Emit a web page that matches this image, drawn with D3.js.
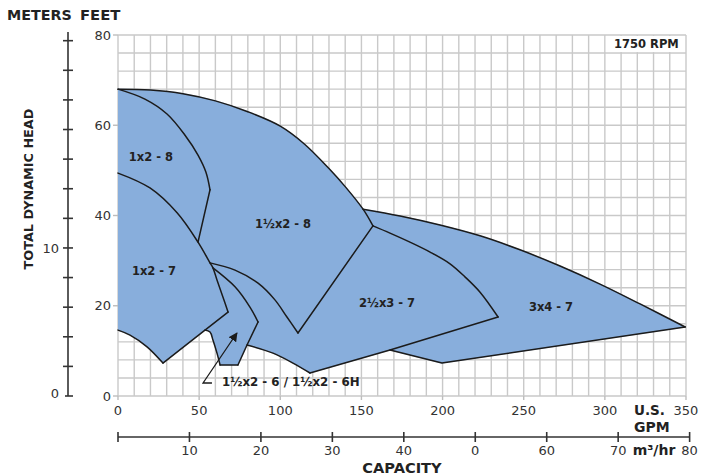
<!DOCTYPE html>
<html><head><meta charset="utf-8">
<script src="https://cdn.jsdelivr.net/npm/d3@7/dist/d3.min.js"></script>
<style>
body{margin:0;background:#fff;}
svg{display:block;}
text{font-family:"DejaVu Sans",sans-serif;}
</style></head>
<body><svg id="c" width="704" height="476"></svg>
<script>
// ---- data (GPM, feet) ----
const gpmTicks = [0,50,100,150,200,250,300,350];
const feetTicks = [0,20,40,60,80];
const meterLabels = [0,10];
const m3Ticks = [0,10,20,30,40,50,60,70,80];
const m3Labels = ["","10","20","30","40","0","60","70","80"];

// boundary curves (GPM, feet)
const topArc = [[0,68.0],[20,67.8],[40,67.0],[60,65.4],[80,63.0],[100,59.8],[115,55.8],[130,50.4],[140,46.4],[151.0,41.4],[157.1,37.7]];
const c18Curve = [[0,68.0],[16.6,65.8],[30.2,62.5],[41.3,57.8],[49.3,53.4],[54.2,49.6],[56.7,45.7]];
const c18Line = [[56.7,45.7],[49.3,34.1]];
const arc17 = [[0,49.4],[19.7,46.1],[36.4,40.6],[49.3,34.1],[56.7,29.5],[58.5,28.4],[61.0,25.7],[64.7,21.9],[67.8,18.6]];
const e17 = [[67.8,18.6],[53.6,14.6],[27.7,7.3]];
const b17Curve = [[27.7,7.3],[17.9,10.9],[7.4,13.5],[0,14.6]];
const arcA = [[56.7,29.5],[72.1,27.9],[86.3,25.0],[96.7,21.3],[104.1,17.5],[110.9,13.96]];
const vLine = [[110.9,13.96],[157.1,37.7]];
const curveB = [[58.5,28.4],[72.1,24.2],[81.3,19.7],[86.3,16.4]];
const e26R = [[86.3,16.4],[79.5,11.3],[73.9,6.87]];
const e26Bot = [[73.9,6.87],[62.9,6.87]];
const e26Left = [[62.9,6.87],[61.0,9.5],[58.5,12.4],[56.7,14.2],[53.6,14.6]];
const b23Curve = [[79.5,11.3],[95.5,9.5],[107.8,7.3],[118.3,5.1]];
const b23Line = [[118.3,5.1],[167.6,10.2],[234.2,17.5]];
const c23Curve = [[157.1,37.7],[167.6,36.1],[179.9,34.1],[192.3,31.9],[204.6,29.3],[213.8,26.4],[223.1,23.0],[234.2,17.5]];
const t34Curve = [[151.0,41.4],[173.8,39.9],[198.4,37.9],[223.1,35.5],[247.7,32.4],[272.4,28.8],[297.0,24.8],[321.7,20.4],[349.5,15.3]];
const b34Line = [[349.5,15.3],[199.6,7.3],[167.6,10.2]];

const regionNames = ["1x2 - 8","1½x2 - 8","1x2 - 7","1½x2 - 6","2½x3 - 7","3x4 - 7"];
const regionLabelPos = [[20.3,53.0],[101.7,38.1],[22.2,27.7],null,[165.8,20.6],[266.8,19.7]];
const smallLabel = "1½x2 - 6 / 1½x2 - 6H";
const smallLabelPos = [64.1,3.1];
const arrowPts = [[57.9,2.88],[52.4,2.88],[73.3,13.96]];

// ---- scales ----
const x = d3.scaleLinear([0,350],[118,686]);
const y = d3.scaleLinear([0,80],[396,35]);
const ym = d3.scaleLinear([0,80/3.28084],[396,35]);
const xm = d3.scaleLinear([0,350/4.40287],[118,686]);

const svg = d3.select("#c");
const GRID = "#c9c9c9";

// grid
const g = svg.append("g");
g.selectAll("line.v").data(d3.range(0,351,10)).join("line").attr("class","v")
 .attr("x1",d=>x(d)).attr("x2",d=>x(d)).attr("y1",y(80)).attr("y2",y(0))
 .attr("stroke",GRID).attr("stroke-width",1.4);
g.selectAll("line.h").data(d3.range(0,81,4)).join("line").attr("class","h")
 .attr("x1",x(0)).attr("x2",x(350)).attr("y1",d=>y(d)).attr("y2",d=>y(d))
 .attr("stroke",GRID).attr("stroke-width",1.4);
g.selectAll("line.ft").data(feetTicks).join("line").attr("class","ft")
 .attr("x1",x(0)-5).attr("x2",x(0)).attr("y1",d=>y(d)).attr("y2",d=>y(d))
 .attr("stroke","#bdbdbd").attr("stroke-width",1.4);
g.selectAll("line.gt").data(gpmTicks).join("line").attr("class","gt")
 .attr("x1",d=>x(d)).attr("x2",d=>x(d)).attr("y1",y(0)).attr("y2",y(0)+4)
 .attr("stroke","#bdbdbd").attr("stroke-width",1.4);

// RPM box
svg.append("rect").attr("x",x(300)+1).attr("y",y(80)+1)
 .attr("width",x(350)-x(300)-2).attr("height",y(76)-y(80)-2).attr("fill","#fff");
svg.append("text").attr("x",(x(300)+x(350))/2+1).attr("y",y(78)).attr("dy","0.36em")
 .attr("text-anchor","middle").attr("font-size",11.5).attr("font-weight",700).attr("fill","#222").text("1750 RPM");

// path helpers
const lin = d3.line().x(d=>x(d[0])).y(d=>y(d[1]));
const cur = d3.line().x(d=>x(d[0])).y(d=>y(d[1])).curve(d3.curveCatmullRom.alpha(0.5));
const curvedSet = new Set([topArc,c18Curve,arc17,b17Curve,arcA,curveB,e26Left,b23Curve,c23Curve,t34Curve]);
const L = a => a.length-1;
function seg(arr,i,j){
  const p = i<=j ? arr.slice(i,j+1) : arr.slice(j,i+1).reverse();
  return {p, c:curvedSet.has(arr)};
}
const gen = s => (s.c && s.p.length>2) ? cur(s.p) : lin(s.p);
function joinPath(segs, close){
  const s = segs.map((q,i)=> i===0 ? gen(q) : gen(q).replace(/^M/,"L")).join("");
  return close ? s+"Z" : s;
}
const regions = [
  [[seg(arc17,0,3), seg(c18Line,1,0), seg(c18Curve,L(c18Curve),0)], false],
  [[seg(topArc,0,L(topArc)), seg(vLine,1,0), seg(arcA,L(arcA),0), seg(arc17,4,3), seg(c18Line,1,0), seg(c18Curve,L(c18Curve),0)], true],
  [[seg(b17Curve,L(b17Curve),0), seg(e17,2,0), seg(arc17,8,0)], false],
  [[seg(e17,1,0), seg(arc17,8,5), seg(curveB,0,L(curveB)), seg(e26R,0,2), seg(e26Bot,0,1), seg(e26Left,0,L(e26Left))], true],
  [[seg(c23Curve,0,L(c23Curve)), seg(b23Line,2,0), seg(b23Curve,L(b23Curve),0), seg(e26R,1,0), seg(curveB,L(curveB),0), seg(arc17,5,4), seg(arcA,0,L(arcA)), seg(vLine,0,1)], true],
  [[seg(t34Curve,0,L(t34Curve)), seg(b34Line,0,2), seg(b23Line,1,2), seg(c23Curve,L(c23Curve),0), seg(topArc,L(topArc),9)], true]
];
svg.append("g").selectAll("path").data(regions).join("path")
 .attr("d",d=>joinPath(d[0],d[1])).attr("fill","#88aedc").attr("stroke","#88aedc").attr("stroke-width",0.6);

const boundaries = [topArc,c18Curve,c18Line,arc17,e17,b17Curve,arcA,vLine,curveB,e26R,e26Bot,e26Left,b23Curve,b23Line,c23Curve,t34Curve,b34Line];
svg.append("g").selectAll("path").data(boundaries).join("path")
 .attr("d",a=>gen({p:a,c:curvedSet.has(a)})).attr("fill","none").attr("stroke","#1b1b1b").attr("stroke-width",1.5)
 .attr("stroke-linejoin","round").attr("stroke-linecap","round");

// region labels
svg.append("g").selectAll("text").data(regionNames.map((n,i)=>({n,p:regionLabelPos[i]})).filter(d=>d.p)).join("text")
 .attr("x",d=>x(d.p[0])).attr("y",d=>y(d.p[1])).attr("dy","0.36em").attr("text-anchor","middle")
 .attr("font-size",11.5).attr("font-weight",700).attr("fill","#222").text(d=>d.n);

svg.append("text").attr("x",x(smallLabelPos[0])).attr("y",y(smallLabelPos[1])).attr("dy","0.36em")
 .attr("font-size",11.8).attr("font-weight",700).attr("fill","#222").text(smallLabel);

// arrow
svg.append("defs").append("marker").attr("id","ah").attr("viewBox","0 0 10 10").attr("refX",9).attr("refY",5)
 .attr("markerWidth",9).attr("markerHeight",9).attr("markerUnits","userSpaceOnUse").attr("orient","auto")
 .append("path").attr("d","M0,0L10,5L0,10Z").attr("fill","#1b1b1b");
svg.append("path").attr("d",lin(arrowPts)).attr("fill","none").attr("stroke","#1b1b1b").attr("stroke-width",1.3)
 .attr("marker-end","url(#ah)");

// feet labels
svg.append("g").selectAll("text").data(feetTicks).join("text")
 .attr("x",x(0)-7).attr("y",d=>y(d)).attr("dy","0.36em").attr("text-anchor","end")
 .attr("font-size",13).attr("fill","#333").text(d=>d);

// meters axis
const mAxisX = 68;
svg.append("line").attr("x1",mAxisX).attr("x2",mAxisX).attr("y1",32).attr("y2",ym(0))
 .attr("stroke","#333").attr("stroke-width",1.6);
svg.append("g").selectAll("line").data(d3.range(0,25,2)).join("line")
 .attr("x1",d=>d===0?mAxisX-3:mAxisX-5).attr("x2",mAxisX+5).attr("y1",d=>ym(d)).attr("y2",d=>ym(d))
 .attr("stroke","#333").attr("stroke-width",1.6);
svg.append("g").selectAll("text").data(meterLabels).join("text")
 .attr("x",59).attr("y",d=>ym(d)-(d===0?3:0)).attr("dy","0.36em").attr("text-anchor","end")
 .attr("font-size",13).attr("fill","#333").text(d=>d);

// gpm labels
svg.append("g").selectAll("text").data(gpmTicks).join("text")
 .attr("x",d=>x(d)).attr("y",410).attr("dy","0.36em").attr("text-anchor","middle")
 .attr("font-size",13).attr("fill","#333").text(d=>d);
svg.append("text").attr("x",634).attr("y",410).attr("dy","0.36em").attr("font-size",13.5).attr("font-weight",700).attr("fill","#222").text("U.S.");
svg.append("text").attr("x",634).attr("y",427).attr("dy","0.36em").attr("font-size",14).attr("font-weight",700).attr("fill","#222").text("GPM");

// m3/hr axis
const mY = 437;
svg.append("line").attr("x1",xm(0)).attr("x2",xm(80)).attr("y1",mY).attr("y2",mY).attr("stroke","#333").attr("stroke-width",1.6);
svg.append("g").selectAll("line").data(m3Ticks).join("line")
 .attr("x1",d=>xm(d)).attr("x2",d=>xm(d)).attr("y1",mY-5).attr("y2",mY+5).attr("stroke","#333").attr("stroke-width",1.6);
svg.append("g").selectAll("text").data(m3Ticks).join("text")
 .attr("x",d=>xm(d)).attr("y",450).attr("dy","0.36em").attr("text-anchor","middle")
 .attr("font-size",13).attr("fill","#333").text((d,i)=>m3Labels[i]);
svg.append("text").attr("x",654).attr("y",450).attr("dy","0.36em").attr("text-anchor","middle")
 .attr("font-size",14).attr("font-weight",700).attr("fill","#222").text("m³/hr");

svg.append("text").attr("x",402).attr("y",468).attr("dy","0.36em").attr("text-anchor","middle")
 .attr("font-size",14.6).attr("font-weight",700).attr("fill","#222").text("CAPACITY");

// titles
svg.append("text").attr("x",7).attr("y",15).attr("dy","0.36em").attr("font-size",14.3).attr("font-weight",700).attr("fill","#222").text("METERS");
svg.append("text").attr("x",80).attr("y",15).attr("dy","0.36em").attr("font-size",14.8).attr("font-weight",700).attr("fill","#222").text("FEET");
svg.append("text").attr("transform","translate(28,189) rotate(-90)").attr("dy","0.36em").attr("text-anchor","middle")
 .attr("font-size",12.8).attr("font-weight",700).attr("fill","#222").text("TOTAL DYNAMIC HEAD");
</script></body></html>
